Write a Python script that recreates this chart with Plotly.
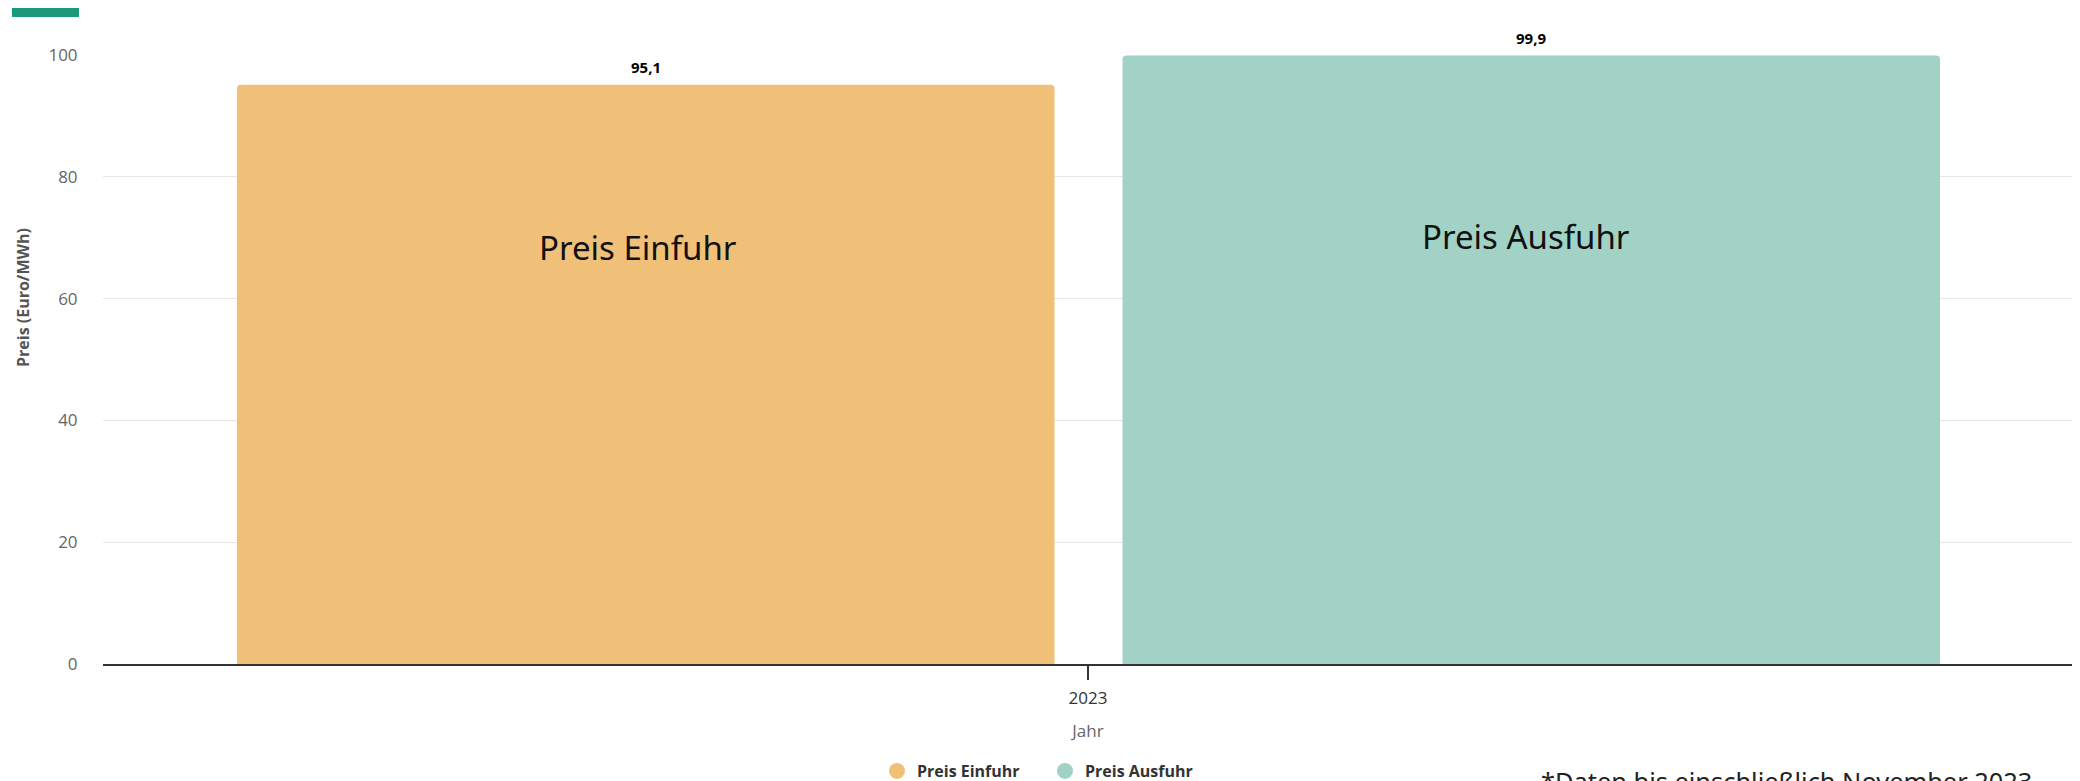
import plotly.graph_objects as go

# ---- data ----
years = ["2023"]
series_names = ["Preis Einfuhr", "Preis Ausfuhr"]
preis_einfuhr = [95.1]
preis_ausfuhr = [99.9]
y_tick_values = [0, 20, 40, 60, 80, 100]
y_title = "Preis (Euro/MWh)"
x_title = "Jahr"
footnote = "*Daten bis einschließlich November 2023"

# ---- styles / layout (page pixel positions, body margin of 8px compensated) ----
OFF = 8
W, H = 2080, 781
colors = ["#F0C078", "#A2D2C6"]
bar_width = 0.415
bar_offsets = [-0.432, 0.0175]
inner_label_shift = [-163, -181]
inner_label_xshift = [-8, -5]
plot_left, plot_right, plot_top, plot_bottom = 103, 2073, 55, 664  # page px
ml = plot_left - OFF
mt = plot_top - OFF
mr = W - (plot_right - OFF)
mb = H - (plot_bottom - OFF)
plot_w = plot_right - plot_left
plot_h = plot_bottom - plot_top

def px_x(p):
    return (p - plot_left) / plot_w

def px_y(p):
    return (plot_bottom - p) / plot_h

fig = go.Figure()
annotations = []
for name, vals, col, off, shift, xs in zip(series_names, [preis_einfuhr, preis_ausfuhr],
                                           colors, bar_offsets, inner_label_shift,
                                           inner_label_xshift):
    fig.add_trace(go.Bar(
        x=years, y=vals, name=name, width=bar_width, offset=off,
        marker=dict(color=col, cornerradius=4, line=dict(width=0)),
        showlegend=False,
    ))
    fig.add_trace(go.Scatter(
        x=[None], y=[None], mode="markers", name=name,
        marker=dict(symbol="circle", size=17, color=col),
    ))
    for v in vals:
        xc = off + bar_width / 2
        annotations.append(dict(
            x=xc, y=v, xref="x", yref="y", yshift=18, showarrow=False,
            text=f"{v:.1f}".replace(".", ","),
            font=dict(family="Open Sans", size=15, color="#000000", weight="bold"),
        ))
        annotations.append(dict(
            x=xc, y=v, xref="x", yref="y", yshift=shift, xshift=xs, showarrow=False,
            text=name, font=dict(family="Noto Sans", size=33, color="#111111"),
        ))

annotations.append(dict(
    x=px_x(23), y=px_y(298), xref="paper", yref="paper", showarrow=False,
    xanchor="center", yanchor="middle",
    text=y_title, textangle=-90,
    font=dict(family="Open Sans", size=16, color="#555555", weight="bold"),
))
annotations.append(dict(
    x=px_x(1786), y=px_y(762), xref="paper", yref="paper", showarrow=False,
    xanchor="center", yanchor="top", text=footnote,
    font=dict(family="Noto Sans", size=25.4, color="#222222"),
))

fig.update_layout(
    width=W, height=H,
    margin=dict(l=ml, r=mr, t=mt, b=mb, autoexpand=False),
    paper_bgcolor="white", plot_bgcolor="white",
    barmode="overlay",
    annotations=annotations,
    shapes=[dict(type="rect", xref="paper", yref="paper",
                 x0=px_x(12), x1=px_x(79), y0=px_y(17), y1=px_y(7),
                 fillcolor="#1A9A7A", line=dict(width=0))],
    legend=dict(
        orientation="h", xref="container", yref="container",
        x=(1045 - OFF) / W, xanchor="center", y=(H - (771 - OFF)) / H, yanchor="middle",
        entrywidth=123, entrywidthmode="pixels",
        font=dict(family="Open Sans", size=16, color="#333333", weight="bold"),
        itemclick=False,
    ),
    xaxis=dict(
        type="category", range=[-0.5, 0.5], fixedrange=True,
        showline=True, linecolor="#333333", linewidth=1.5,
        ticks="outside", ticklen=14, tickcolor="#333333", tickwidth=1.5,
        ticklabelstandoff=4,
        tickfont=dict(family="Open Sans", size=17, color="#333333"),
        title=dict(text=x_title, font=dict(family="Open Sans", size=17, color="#666666"), standoff=17),
        showgrid=False,
    ),
    yaxis=dict(
        range=[0, 100], tickvals=y_tick_values, zeroline=False,
        showgrid=True, gridcolor="#e6e6e6", gridwidth=1,
        ticks="outside", ticklen=21, tickcolor="rgba(0,0,0,0)",
        tickfont=dict(family="Open Sans", size=17, color="#666666"),
        showline=False,
    ),
)

fig.write_html("out.html")
